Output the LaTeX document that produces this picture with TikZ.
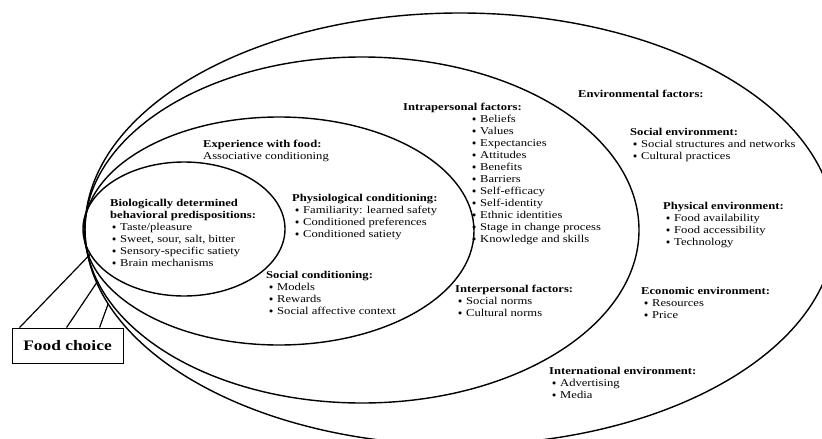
\documentclass[tikz,border=0pt]{standalone}
\usepackage{fontspec}
\setmainfont{Liberation Serif}[FakeStretch=1.2]
\usepackage{tikz}
\usetikzlibrary{shapes,calc}

\newcommand{\bul}[2][3pt]{\hspace*{#1}\makebox[8pt][l]{\raisebox{0.7pt}{\scalebox{0.75}{$\bullet$}}}#2}

\begin{document}
\begin{tikzpicture}[x=1pt,y=-1pt,
ring/.style={ellipse, draw, line width=1.4pt, inner sep=0pt, outer sep=0pt},
factor/.style={anchor=north west, align=left, inner sep=0pt, font=\fontsize{10.5}{12}\selectfont},
choicebox/.style={draw, line width=0.9pt, minimum width=111pt, minimum height=35pt, inner sep=0pt, font=\fontsize{14.5}{16}\selectfont\bfseries},
link/.style={line width=1.2pt}
]
\useasboundingbox (0,0) rectangle (822,439);
% Rings
\node[ring, minimum width=750pt, minimum height=432pt] (env)   at (460,229) {};
\node[ring, minimum width=554pt, minimum height=346pt] (intra) at (362,230) {};
\node[ring, minimum width=390pt, minimum height=228pt] (exp)   at (279,231) {};
\node[ring, minimum width=202pt, minimum height=134pt] (bio)   at (184,229) {};
% Texts
\node[factor] (bio-txt)   at (110,199) {\textbf{Biologically determined}\\ \textbf{behavioral predispositions:}\\ \bul[2pt]{Taste/pleasure}\\ \bul[2pt]{Sweet, sour, salt, bitter}\\ \bul[2pt]{Sensory-specific satiety}\\ \bul[2pt]{Brain mechanisms}};
\node[factor] (exp-txt)   at (203,140) {\textbf{Experience with food:}\\ Associative conditioning};
\node[factor] (phys-txt)  at (292,194) {\textbf{Physiological conditioning:}\\ \bul{Familiarity: learned safety}\\ \bul{Conditioned preferences}\\ \bul{Conditioned satiety}};
\node[factor] (socc-txt)  at (266,271) {\textbf{Social conditioning:}\\ \bul{Models}\\ \bul{Rewards}\\ \bul{Social affective context}};
\node[factor] (intra-txt) at (403,103) {\textbf{Intrapersonal factors:}\\ \bul[69pt]{Beliefs}\\ \bul[69pt]{Values}\\ \bul[69pt]{Expectancies}\\ \bul[69pt]{Attitudes}\\ \bul[69pt]{Benefits}\\ \bul[69pt]{Barriers}\\ \bul[69pt]{Self-efficacy}\\ \bul[69pt]{Self-identity}\\ \bul[69pt]{Ethnic identities}\\ \bul[69pt]{Stage in change process}\\ \bul[69pt]{Knowledge and skills}};
\node[factor] (inter-txt) at (455,285) {\textbf{Interpersonal factors:}\\ \bul{Social norms}\\ \bul{Cultural norms}};
\node[factor] (env-txt)   at (578,90)  {\textbf{Environmental factors:}};
\node[factor] (soc-txt)   at (630,128) {\textbf{Social environment:}\\ \bul{Social structures and networks}\\ \bul{Cultural practices}};
\node[factor] (phy-txt)   at (663,202) {\textbf{Physical environment:}\\ \bul{Food availability}\\ \bul{Food accessibility}\\ \bul{Technology}};
\node[factor] (eco-txt)   at (641,287) {\textbf{Economic environment:}\\ \bul{Resources}\\ \bul{Price}};
\node[factor] (intl-txt)  at (549,367) {\textbf{International environment:}\\ \bul{Advertising}\\ \bul{Media}};
% Food choice
\node[choicebox] (fc) at (67.5,345.5) {Food choice};
\draw[link] ($(fc.north west)+(8,0)$) -- (bio.195);
\draw[link] ($(fc.north west)+(55,0)$) -- (intra.191);
\draw[link] ($(fc.north west)+(88,0)$) -- (env.192);
\end{tikzpicture}
\end{document}
